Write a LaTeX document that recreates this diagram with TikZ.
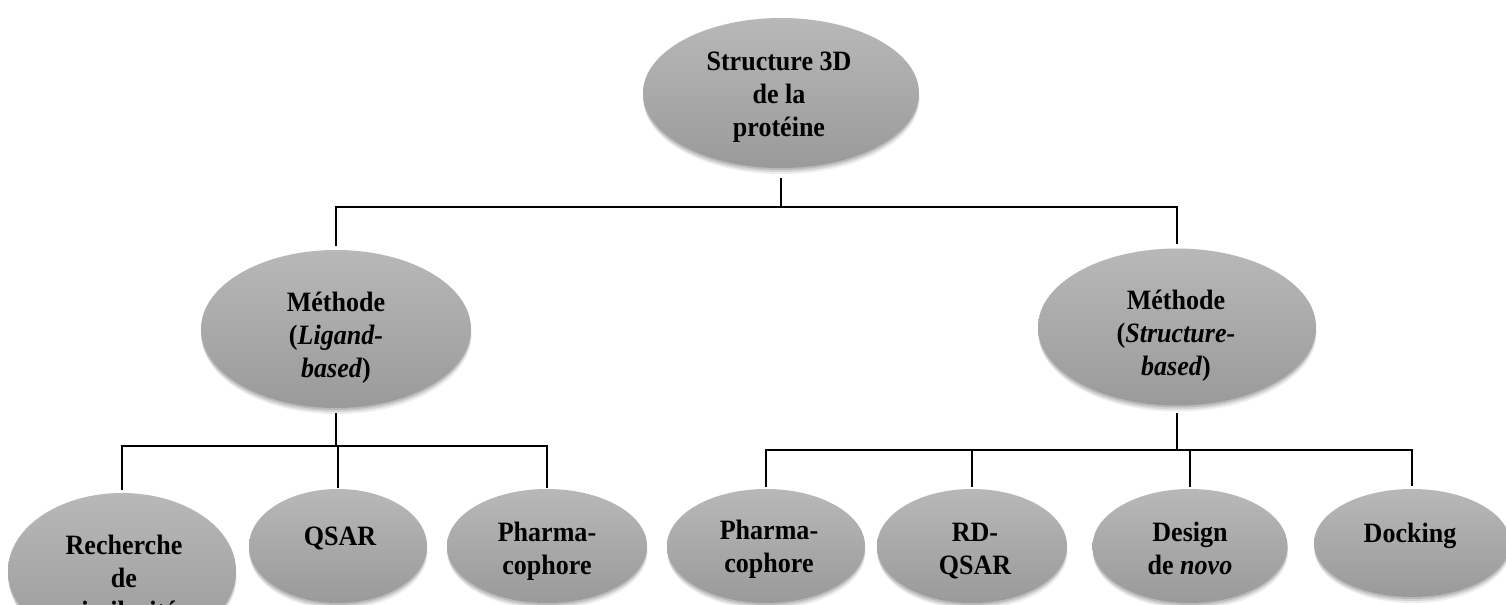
\documentclass[tikz,border=0pt]{standalone}
\usepackage{fontspec}
\setmainfont{Liberation Serif}[FakeStretch=0.93]
\usetikzlibrary{shapes.geometric,shadows}
\tikzset{
  ell/.style={ellipse, inner sep=0pt, draw=none,
    general shadow={fill=black, opacity=0.07, shadow yshift=-3pt, shadow xshift=0.3pt},
    general shadow={fill=black, opacity=0.10, shadow yshift=-2pt},
    general shadow={fill=black, opacity=0.12, shadow yshift=-1pt},
    top color={rgb,255:red,184;green,184;blue,184},
    bottom color={rgb,255:red,154;green,154;blue,154}},
  lbl/.style={anchor=north, align=center, inner sep=0pt, font=\bfseries\fontsize{14pt}{16.5pt}\selectfont},
  conn/.style={line width=1.4pt, black},
}
\begin{document}
\begin{tikzpicture}[x=0.5pt,y=-0.5pt]
\clip (0,0) rectangle (1506,605);
\fill[white] (0,0) rectangle (1506,605);

% ellipses
\node[ell, minimum width=138pt, minimum height=75pt] (top) at (781,93) {};
\node[ell, minimum width=135pt, minimum height=79pt] (lm) at (336,329) {};
\node[ell, minimum width=139pt, minimum height=78.5pt] (rm) at (1177,327) {};
\node[ell, minimum width=114pt, minimum height=78pt] (b1) at (122,571) {};
\node[ell, minimum width=89pt, minimum height=57pt] (b2) at (338,546) {};
\node[ell, minimum width=100pt, minimum height=57pt] (b3) at (547,546) {};
\node[ell, minimum width=99pt, minimum height=57pt] (b4) at (766,546) {};
\node[ell, minimum width=95pt, minimum height=57pt] (b5) at (972,546) {};
\node[ell, minimum width=97.5pt, minimum height=57pt] (b6) at (1190,546) {};
\node[ell, minimum width=98pt, minimum height=54pt] (b7) at (1412,543) {};

% labels
\node[lbl] (ttop) at (779,52) {Structure 3D\\de la\\protéine};
\node[lbl] (tlm) at (336,292) {Méthode\\(\textit{Ligand-}\\\textit{based})};
\node[lbl] (trm) at (1176,290) {Méthode\\(\textit{Structure-}\\\textit{based})};
\node[lbl] (tb1) at (124,535) {Recherche\\de\\similarité};
\node[lbl] (tb2) at (340,527) {QSAR};
\node[lbl] (tb3) at (547,522) {Pharma-\\cophore};
\node[lbl] (tb4) at (769,520) {Pharma-\\cophore};
\node[lbl] (tb5) at (975,523) {RD-\\QSAR};
\node[lbl] (tb6) at (1190,522) {Design\\de \textit{novo}};
\node[lbl] (tb7) at (1410,523) {Docking};

% connectors
\coordinate (h0) at (781,207);
\draw[conn] ([yshift=-5pt]top.south) -- (h0);
\draw[conn] (h0) -| ([yshift=2pt]lm.north);
\draw[conn] (h0) -| ([yshift=2pt]rm.north);

\coordinate (h1) at (336,446);
\draw[conn] ([yshift=-2.5pt]lm.south) -- (h1);
\draw[conn] (h1) -| ([yshift=1.5pt]b1.north);
\draw[conn] (h1) -| ([yshift=0.5pt]b2.north);
\draw[conn] (h1) -| ([yshift=0.5pt]b3.north);

\coordinate (h2) at (1177,450);
\draw[conn] ([yshift=-3.5pt]rm.south) -- (h2);
\draw[conn] (h2) -| ([yshift=1pt]b4.north);
\draw[conn] (h2) -| ([yshift=1pt]b5.north);
\draw[conn] (h2) -| ([yshift=1pt]b6.north);
\draw[conn] (h2) -| ([yshift=1.5pt]b7.north);
\end{tikzpicture}
\end{document}
